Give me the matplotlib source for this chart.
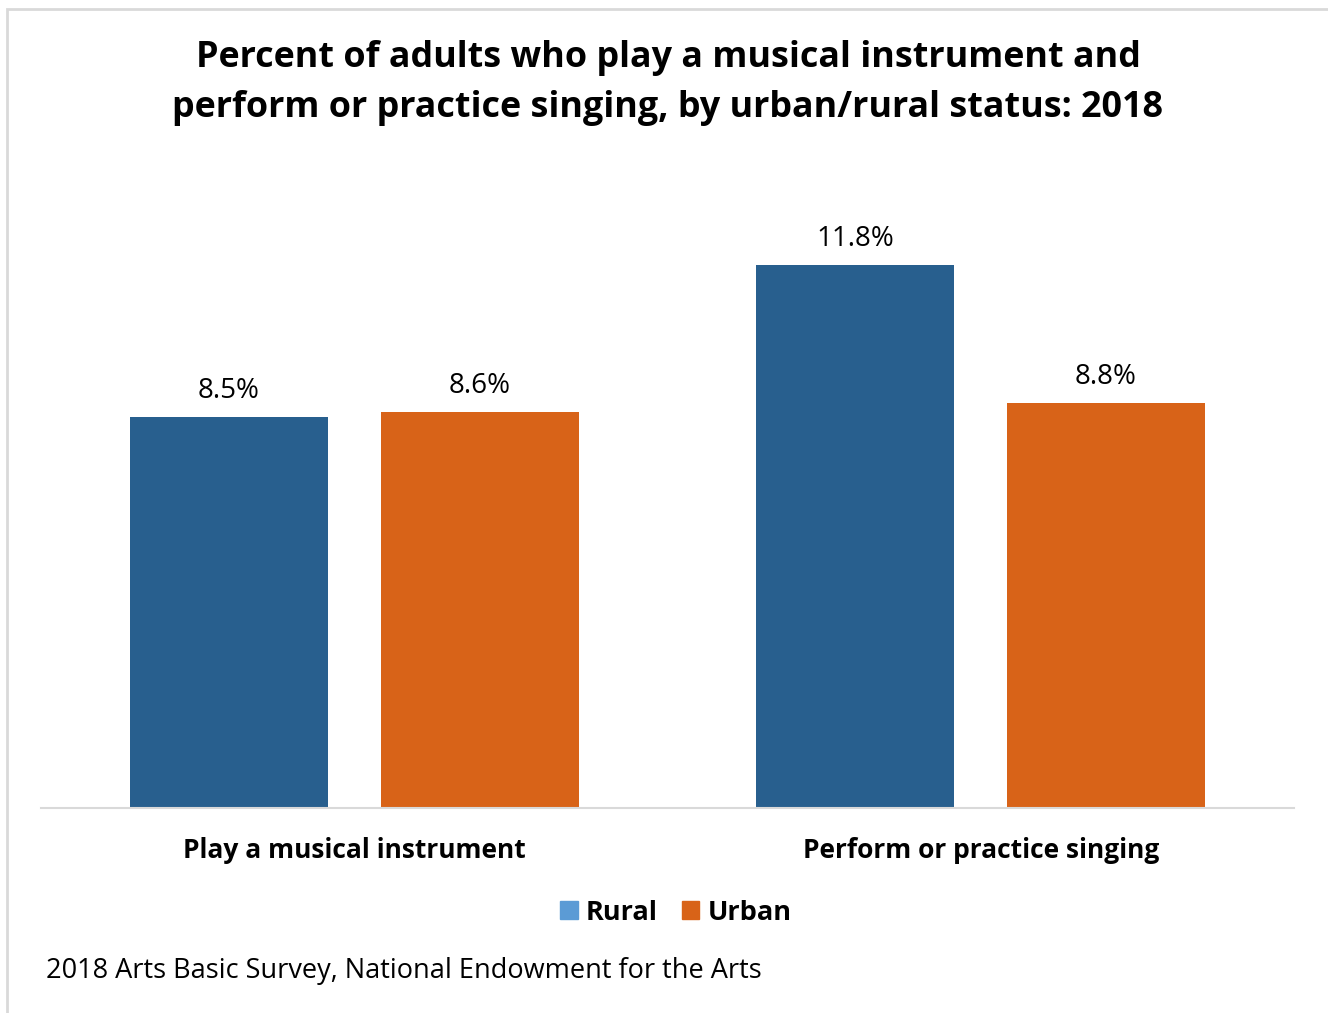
import matplotlib.pyplot as plt
from matplotlib.patches import Rectangle, Patch

# data
categories = ["Play a musical instrument", "Perform or practice singing"]
rural = [8.5, 11.8]
urban = [8.6, 8.8]
series_names = ["Rural", "Urban"]

plt.rcParams['font.family'] = ['Open Sans', 'DejaVu Sans']

fig = plt.figure(figsize=(13.28, 10.13), dpi=100)
ax = fig.add_axes([0.0309, 0.2024, 0.9435, 0.6357])

x = range(len(categories))
w = 0.316
b1 = ax.bar([i - 0.2 for i in x], rural, w, color='#285F8E')
b2 = ax.bar([i + 0.2 for i in x], urban, w, color='#D86318')

for bars in (b1, b2):
    for r in bars:
        ax.annotate(f"{r.get_height():.1f}%", (r.get_x() + r.get_width() / 2, r.get_height()),
                    xytext=(0, 19), textcoords='offset points', ha='center', va='center',
                    fontsize=20)

ax.set_xlim(-0.5, 1.5)
ax.set_ylim(0, 14)
ax.set_yticks([])
ax.set_xticks(list(x))
ax.set_xticklabels(categories, fontsize=19, fontweight='bold')
ax.tick_params(axis='x', length=0, pad=21)
for s in ['top', 'right', 'left']:
    ax.spines[s].set_visible(False)
ax.spines['bottom'].set_color('#D9D9D9')
ax.spines['bottom'].set_linewidth(1.5)

fig.text(0.503, 0.918, "Percent of adults who play a musical instrument and\n"
         "perform or practice singing, by urban/rural status: 2018",
         ha='center', va='center', fontsize=25.8, fontweight='bold', linespacing=1.5)

handles = [Patch(color='#5B9BD5'), Patch(color='#D86318')]
fig.legend(handles, series_names, loc='center', bbox_to_anchor=(0.509, 0.099), ncol=2,
           frameon=False, prop={'size': 19.5, 'weight': 'bold'},
           handlelength=0.65, handleheight=0.65, handletextpad=0.3, columnspacing=0.88)

fig.text(0.035, 0.0415, "2018 Arts Basic Survey, National Endowment for the Arts",
         ha='left', va='center', fontsize=19.5)

# light grey frame round the chart
fig.patches.append(Rectangle((7 / 1328, -0.01), 1.0, 1.0 - 9 / 1013 + 0.01,
                             transform=fig.transFigure, fill=False,
                             edgecolor='#D9D9D9', linewidth=2))

fig.savefig("out.png", dpi=100)
